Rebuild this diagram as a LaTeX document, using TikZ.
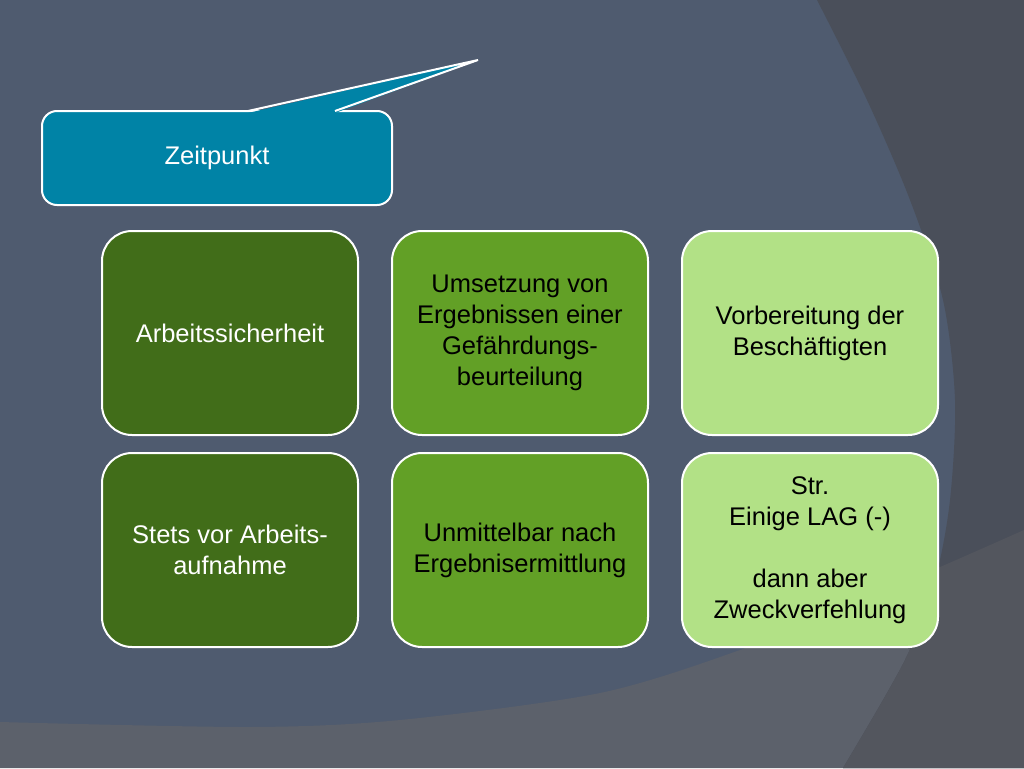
\documentclass[tikz,border=0pt]{standalone}
\usepackage{fontspec}
\setmainfont{Liberation Sans}
\usetikzlibrary{positioning,calc}
\definecolor{slate}{HTML}{4F5B6F}
\definecolor{bandgray}{HTML}{5C616B}
\definecolor{rightdark}{HTML}{4A4F5A}
\definecolor{cornergray}{HTML}{53565E}
\definecolor{teal}{HTML}{0083A6}
\definecolor{darkgreen}{HTML}{416D19}
\definecolor{midgreen}{HTML}{62A026}
\definecolor{lightgreen}{HTML}{B2E186}
\begin{document}
\begin{tikzpicture}[x=1pt,y=-1pt,
    tile/.style={draw=white, line width=2pt, rounded corners=30pt,
      minimum width=256pt, minimum height=204pt, align=center,
      font=\fontsize{25.5}{31}\selectfont},
    lowtile/.style={tile, minimum height=194pt},
    callbox/.style={draw=white, line width=2pt, rounded corners=15pt, fill=teal,
      minimum width=350pt, minimum height=94pt, text=white,
      font=\fontsize{25.5}{31}\selectfont}]
  \useasboundingbox (0,0) rectangle (1024,768);
  % background
  \fill[slate] (0,0) rectangle (1024,768);
  \def\bandpath{plot[smooth] coordinates {(0,722) (250,727) (400,720) (600,693) (740,650) (850,605) (940,567) (1024,530)} -- (1024,768) -- (0,768) -- cycle}
  \def\rightpath{plot[smooth] coordinates {(817,0) (867,100) (910,200) (943,300) (955,400) (950,500) (935,580) (905,660) (843,768)} -- (1024,768) -- (1024,0) -- cycle}
  \fill[bandgray] \bandpath;
  \fill[rightdark] \rightpath;
  \begin{scope}
    \clip \bandpath;
    \fill[cornergray] \rightpath;
  \end{scope}
  % callout
  \node[callbox] (zeit) at (217,158) {Zeitpunkt};
  \coordinate (tip) at (478,60);
  \coordinate (wl) at ($(zeit.north west)+(207,1)$);
  \coordinate (wr) at ($(zeit.north west)+(294,1)$);
  \fill[teal] ($(wl)+(0,2)$) -- (tip) -- ($(wr)+(0,2)$) -- cycle;
  \draw[white, line width=2pt, line join=miter] (wl) -- (tip) -- (wr);
  % tiles
  \node[tile, fill=darkgreen, text=white] (a1) at (230,333) {Arbeitssicherheit};
  \node[tile, fill=midgreen, right=32pt of a1] (a2) {Umsetzung von\\Ergebnissen einer\\Gefährdungs-\\beurteilung};
  \node[tile, fill=lightgreen, right=32pt of a2] (a3) {Vorbereitung der\\Beschäftigten};
  \node[lowtile, fill=darkgreen, text=white, below=16pt of a1] (b1) {Stets vor Arbeits-\\aufnahme};
  \node[lowtile, fill=midgreen, below=16pt of a2] (b2) {Unmittelbar nach\\Ergebnisermittlung};
  \node[lowtile, fill=lightgreen, below=16pt of a3] (b3) {Str.\\Einige LAG (-)\\[31pt]dann aber\\Zweckverfehlung};
\end{tikzpicture}
\end{document}
